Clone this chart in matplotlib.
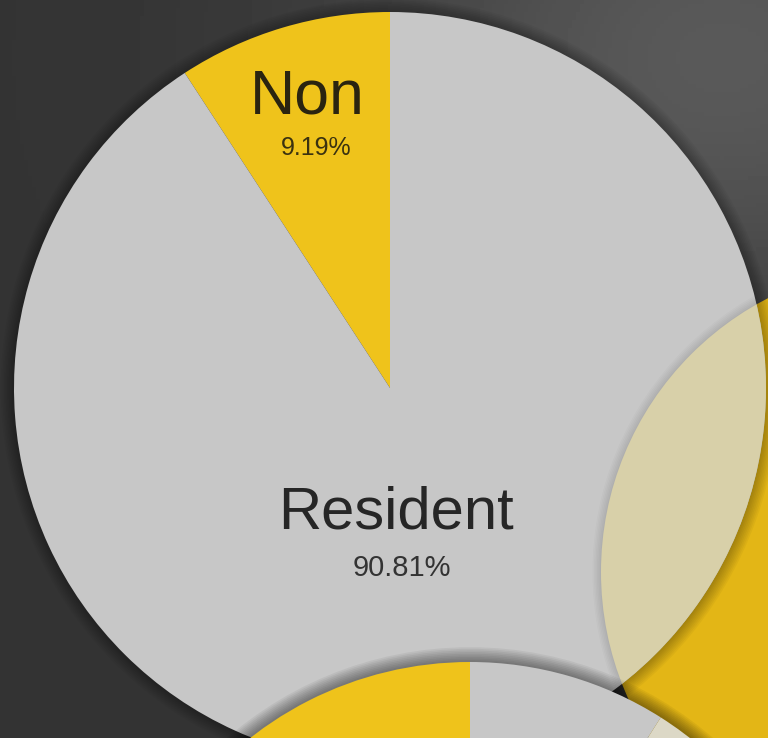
import numpy as np
import matplotlib
matplotlib.use("Agg")
import matplotlib.pyplot as plt
from matplotlib.patches import Circle

# main chart
labels = ["Non", "Resident"]
shares = [9.19, 90.81]
# neighbouring charts (partly visible at the edges)
bottom_shares = [9, 5, 71, 15]
right_shares = [100]

GRAY = "#c7c7c7"
YELLOW = "#efc31b"
YELLOW_DK = "#e3b616"
CREAM = "#d8d0a9"
CREAM_LT = "#dcd8c6"

W, H = 768, 738
fig = plt.figure(figsize=(7.68, 7.38), dpi=100)
ax = fig.add_axes([0, 0, 1, 1])

# dark backdrop with a soft light patch top right
yy, xx = np.mgrid[0:H:4, 0:W:4]
glow = np.exp(-(((xx - 720) / 360.0) ** 2 + ((yy - 680) / 280.0) ** 2))
ax.imshow(0.2 + 0.15 * glow, cmap="gray", vmin=0, vmax=1,
          extent=[0, W, 0, H], origin="lower", zorder=0)

def shadow(c, r, z, n=10, a=0.05):
    for k in range(n):
        ax.add_patch(Circle(c, r + 2 + k * 1.6, color="black", alpha=a, lw=0, zorder=z))

main_c, main_r = (390, 350), 376
right_c, right_r = (909, 166), 308
bot_c, bot_r = (470, -280), 356

# right chart (underneath)
ax.pie(right_shares, colors=[YELLOW_DK], center=right_c, radius=right_r,
       startangle=90, wedgeprops=dict(lw=0, zorder=1))

# main pie
shadow(main_c, main_r, 1.5, n=8, a=0.035)
wedges, _ = ax.pie(shares, colors=[YELLOW, GRAY], center=main_c, radius=main_r,
                   startangle=90, counterclock=True, wedgeprops=dict(lw=0, zorder=2))

# overlap of the right chart on the main one
clip = Circle(main_c, main_r, transform=ax.transData)
lens = Circle(right_c, right_r, color=CREAM, lw=0, zorder=3)
ax.add_patch(lens)
lens.set_clip_path(clip)
for k in range(6):
    s = Circle(right_c, right_r + 1 + k * 1.5, color="black", alpha=0.02, lw=0, zorder=2.5)
    ax.add_patch(s)
    s.set_clip_path(clip)

# bottom chart (on top)
shadow(bot_c, bot_r, 3.5, n=9, a=0.05)
ax.pie(bottom_shares, colors=[GRAY, CREAM_LT, GRAY, YELLOW], center=bot_c, radius=bot_r,
       startangle=90, counterclock=False, wedgeprops=dict(lw=0, zorder=4))

font = ["Liberation Sans", "DejaVu Sans"]
ax.text(307, 641, labels[0], ha="center", va="center", fontsize=45,
        color="#2a2410", family=font, zorder=6)
ax.text(316, 590, "{:.2f}%".format(shares[0]), ha="center", va="center",
        fontsize=18, color="#3a3210", family=font, zorder=6)
ax.text(396, 225, labels[1], ha="center", va="center", fontsize=43,
        color="#262626", family=font, zorder=6)
ax.text(402, 170, "{:.2f}%".format(shares[1]), ha="center", va="center",
        fontsize=21, color="#333333", family=font, zorder=6)

ax.set_xlim(0, W)
ax.set_ylim(0, H)
ax.set_aspect("auto")
ax.axis("off")
fig.savefig("out.png", dpi=100)
